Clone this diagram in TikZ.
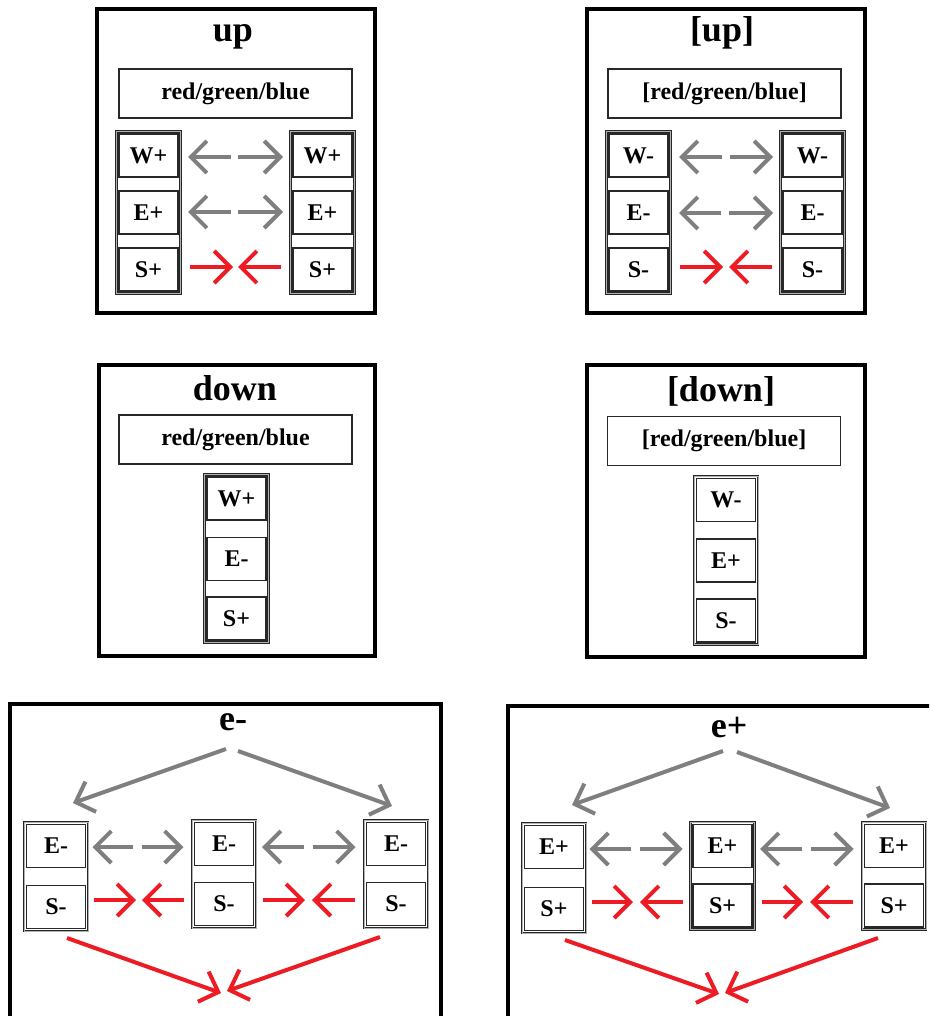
\documentclass[tikz,border=0pt]{standalone}
\usepackage{fontspec}
\setmainfont{Liberation Serif}
\usetikzlibrary{arrows.meta,fit}
\definecolor{arrgray}{RGB}{127,127,127}
\definecolor{arrred}{RGB}{237,28,36}
\definecolor{boxline}{RGB}{40,40,40}
\begin{document}
\begin{tikzpicture}[x=1pt,y=-1pt,
 frame/.style={draw=black,line width=4pt},
 title/.style={font=\fontsize{36}{40}\selectfont\bfseries,anchor=base,inner sep=0pt},
 rgbbox/.style={draw=boxline,line width=1.3pt,minimum width=233pt,minimum height=49pt,inner sep=0pt,outer sep=0pt,font=\fontsize{24}{26}\selectfont\bfseries},
 cell/.style={draw=boxline,line width=1.3pt,minimum width=59pt,minimum height=43pt,inner sep=0pt,outer sep=0pt,font=\fontsize{24}{26}\selectfont\bfseries},
 col/.style={draw=black!85,line width=0.8pt,double=black!30,double distance=1pt,inner sep=2.5pt,outer sep=0pt},
 garr/.style={draw=arrgray,line width=4pt,-{Straight Barb[length=16pt,width=32pt]}},
 rarr/.style={draw=arrred,line width=4pt,-{Straight Barb[length=16pt,width=32pt]}},
]
\clip (0,0) rectangle (929,1016);
\fill[white] (0,0) rectangle (929,1016);

% ---------- up ----------
\draw[frame] (97,9) rectangle (375,313);
\node[title] (tu) at (233,42) {up};
\node[rgbbox] (ru) at (235.5,93.5) {red/green/blue};
\node[cell] (uWl) at (148.5,155.5) {W+};
\node[cell] (uEl) at (148.5,212.5) {E+};
\node[cell] (uSl) at (148.5,269.5) {S+};
\node[cell] (uWr) at (322.5,155.5) {W+};
\node[cell] (uEr) at (322.5,212.5) {E+};
\node[cell] (uSr) at (322.5,269.5) {S+};
\node[col,fit=(uWl)(uSl)] (ul) {};
\node[col,fit=(uWr)(uSr)] (ur) {};
\coordinate (uW) at (234.5,157);
\coordinate (uE) at (234.5,212);
\coordinate (uS) at (235.5,267);
\draw[garr,shorten <=3.5pt,shorten >=7.5pt] (uW) -- (uW -| ul.east);
\draw[garr,shorten <=3.5pt,shorten >=7.5pt] (uW) -- (uW -| ur.west);
\draw[garr,shorten <=3.5pt,shorten >=7.5pt] (uE) -- (uE -| ul.east);
\draw[garr,shorten <=3.5pt,shorten >=7.5pt] (uE) -- (uE -| ur.west);
\draw[rarr,shorten <=9.5pt,shorten >=2.5pt] (uS -| ul.east) -- (uS);
\draw[rarr,shorten <=9.5pt,shorten >=2.5pt] (uS -| ur.west) -- (uS);

% ---------- [up] ----------
\draw[frame] (587,9) rectangle (865,313);
\node[title] (tbu) at (722,42) {[up]};
\node[rgbbox] (rbu) at (724.5,93.5) {[red/green/blue]};
\node[cell] (bWl) at (638.5,155.5) {W-};
\node[cell] (bEl) at (638.5,212.5) {E-};
\node[cell] (bSl) at (638.5,269.5) {S-};
\node[cell] (bWr) at (812.5,155.5) {W-};
\node[cell] (bEr) at (812.5,212.5) {E-};
\node[cell] (bSr) at (812.5,269.5) {S-};
\node[col,fit=(bWl)(bSl)] (bl) {};
\node[col,fit=(bWr)(bSr)] (br) {};
\coordinate (bW) at (726,157);
\coordinate (bE) at (725,213);
\coordinate (bS) at (726,267);
\draw[garr,shorten <=4pt,shorten >=8.5pt] (bW) -- (bW -| bl.east);
\draw[garr,shorten <=4pt,shorten >=7.5pt] (bW) -- (bW -| br.west);
\draw[garr,shorten <=4pt,shorten >=8.5pt] (bE) -- (bE -| bl.east);
\draw[garr,shorten <=4pt,shorten >=7.5pt] (bE) -- (bE -| br.west);
\draw[rarr,shorten <=9.5pt,shorten >=3pt] (bS -| bl.east) -- (bS);
\draw[rarr,shorten <=8.5pt,shorten >=3pt] (bS -| br.west) -- (bS);

% ---------- down ----------
\draw[frame] (99,365) rectangle (375,656);
\node[title] (td) at (235,400) {down};
\node[rgbbox] (rd) at (235.5,439.5) {red/green/blue};
\node[cell] (dW) at (236.5,498.5) {W+};
\node[cell] (dE) at (236.5,559) {E-};
\node[cell] (dS) at (236.5,618.5) {S+};
\node[col,fit=(dW)(dS)] (dc) {};

% ---------- [down] ----------
\draw[frame] (587,365) rectangle (865,657);
\node[title] (tbd) at (721,401) {[down]};
\node[rgbbox] (rbd) at (724,441) {[red/green/blue]};
\node[cell] (qW) at (726,500) {W-};
\node[cell] (qE) at (726,560.5) {E+};
\node[cell] (qS) at (726,620.5) {S-};
\node[col,fit=(qW)(qS)] (qc) {};

% ---------- e- ----------
\draw[frame] (9.5,1040) -- (9.5,703.5) -- (441,703.5) -- (441,1040);
\node[title] (tem) at (233,730) {e-};
\node[cell] (mE1) at (56,846) {E-};
\node[cell] (mS1) at (56,907) {S-};
\node[cell] (mE2) at (224,844) {E-};
\node[cell] (mS2) at (224,904) {S-};
\node[cell] (mE3) at (396,844) {E-};
\node[cell] (mS3) at (396,904) {S-};
\node[col,fit=(mE1)(mS1)] (mc1) {};
\node[col,fit=(mE2)(mS2)] (mc2) {};
\node[col,fit=(mE3)(mS3)] (mc3) {};
\coordinate (mg1) at (137.5,847);
\coordinate (mg2) at (308.5,847);
\coordinate (mr1) at (139,900);
\coordinate (mr2) at (308.5,900);
\draw[garr,shorten <=4.5pt,shorten >=4.5pt] (mg1) -- (mg1 -| mc1.east);
\draw[garr,shorten <=4.5pt,shorten >=8.5pt] (mg1) -- (mg1 -| mc2.west);
\draw[garr,shorten <=4.5pt,shorten >=6pt] (mg2) -- (mg2 -| mc2.east);
\draw[garr,shorten <=4.5pt,shorten >=8.5pt] (mg2) -- (mg2 -| mc3.west);
\draw[rarr,shorten <=5.5pt,shorten >=3pt] (mr1 -| mc1.east) -- (mr1);
\draw[rarr,shorten <=8pt,shorten >=3pt] (mr1 -| mc2.west) -- (mr1);
\draw[rarr,shorten <=7pt,shorten >=3.5pt] (mr2 -| mc2.east) -- (mr2);
\draw[rarr,shorten <=9.5pt,shorten >=3.5pt] (mr2 -| mc3.west) -- (mr2);
\coordinate (mt1) at (226,749);
\coordinate (mt2) at (238,751);
\coordinate (ml) at (73,803);
\coordinate (mrr) at (392,806);
\draw[garr] (mt1) -- (ml);
\draw[garr] (mt2) -- (mrr);
\coordinate (mb1) at (67,938);
\coordinate (mb2) at (380,937);
\coordinate (mk1) at (221,993);
\coordinate (mk2) at (227,991);
\draw[rarr] (mb1) -- (mk1);
\draw[rarr] (mb2) -- (mk2);

% ---------- e+ ----------
\draw[frame] (507.5,1040) -- (507.5,705.5) -- (945,705.5);
\node[title] (tep) at (729,737) {e+};
\node[cell] (pE1) at (554,847) {E+};
\node[cell] (pS1) at (554,909) {S+};
\node[cell] (pE2) at (722.5,846) {E+};
\node[cell] (pS2) at (722.5,905.5) {S+};
\node[cell] (pE3) at (894,846) {E+};
\node[cell] (pS3) at (894,905.5) {S+};
\node[col,fit=(pE1)(pS1)] (pc1) {};
\node[col,fit=(pE2)(pS2)] (pc2) {};
\node[col,fit=(pE3)(pS3)] (pc3) {};
\coordinate (pg1) at (635.5,849);
\coordinate (pg2) at (806.5,849);
\coordinate (pr1) at (636.5,902);
\coordinate (pr2) at (806.5,902);
\draw[garr,shorten <=4.5pt,shorten >=3.5pt] (pg1) -- (pg1 -| pc1.east);
\draw[garr,shorten <=4.5pt,shorten >=8pt] (pg1) -- (pg1 -| pc2.west);
\draw[garr,shorten <=4.5pt,shorten >=5.5pt] (pg2) -- (pg2 -| pc2.east);
\draw[garr,shorten <=4.5pt,shorten >=8.5pt] (pg2) -- (pg2 -| pc3.west);
\draw[rarr,shorten <=6pt,shorten >=3.5pt] (pr1 -| pc1.east) -- (pr1);
\draw[rarr,shorten <=8pt,shorten >=3.5pt] (pr1 -| pc2.west) -- (pr1);
\draw[rarr,shorten <=7pt,shorten >=3.5pt] (pr2 -| pc2.east) -- (pr2);
\draw[rarr,shorten <=9.5pt,shorten >=3.5pt] (pr2 -| pc3.west) -- (pr2);
\coordinate (pt1) at (723,751);
\coordinate (pt2) at (737,752);
\coordinate (pl) at (572,805);
\coordinate (prr) at (890,808);
\draw[garr] (pt1) -- (pl);
\draw[garr] (pt2) -- (prr);
\coordinate (pb1) at (565,940);
\coordinate (pb2) at (878,938);
\coordinate (pk1) at (719,994);
\coordinate (pk2) at (725,993);
\draw[rarr] (pb1) -- (pk1);
\draw[rarr] (pb2) -- (pk2);
\end{tikzpicture}
\end{document}
